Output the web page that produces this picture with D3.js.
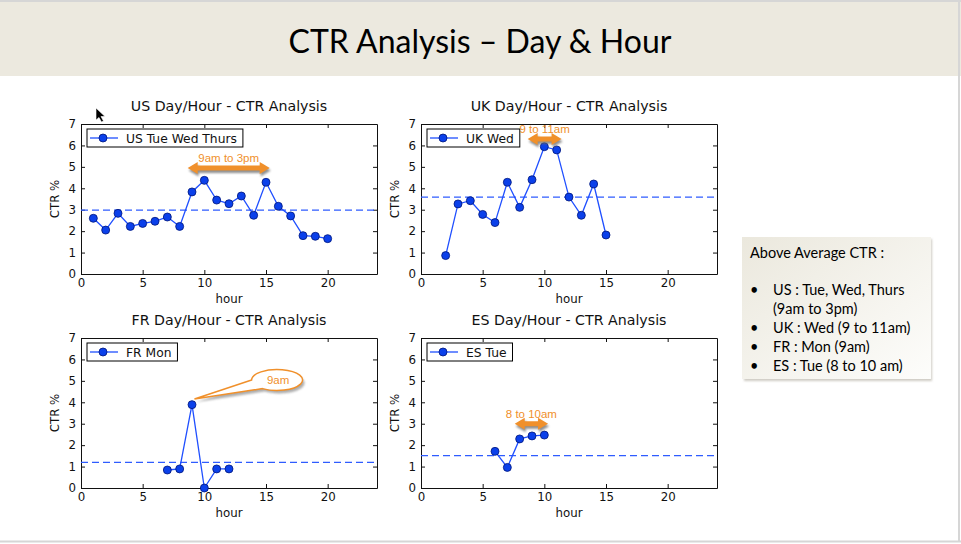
<!DOCTYPE html>
<meta charset="utf-8">
<script src="https://d3js.org/d3.v7.min.js"></script>
<style>
  body { margin: 0; background: #fff; }
</style>
<body>
<div id="slide"></div>
<script>
// hours and CTR %
const usHours = [1, 2, 3, 4, 5, 6, 7, 8, 9, 10, 11, 12, 13, 14, 15, 16, 17, 18, 19, 20];
const usCtr = [2.60, 2.05, 2.83, 2.22, 2.36, 2.46, 2.66, 2.22, 3.83, 4.37, 3.45, 3.28, 3.64, 2.74, 4.28, 3.16, 2.71, 1.79, 1.76, 1.65];
const ukHours = [2, 3, 4, 5, 6, 7, 8, 9, 10, 11, 12, 13, 14, 15];
const ukCtr = [0.86, 3.27, 3.42, 2.78, 2.40, 4.28, 3.11, 4.40, 5.94, 5.79, 3.59, 2.74, 4.20, 1.82];
const frHours = [7, 8, 9, 10, 11, 12];
const frCtr = [0.84, 0.89, 3.89, 0.0, 0.89, 0.89];
const esHours = [6, 7, 8, 9, 10];
const esCtr = [1.71, 0.96, 2.29, 2.43, 2.47];

// average CTR (dashed line) per country
const avgCtr = [2.98, 3.59, 1.20, 1.51];
const countries = ["US", "UK", "FR", "ES"];
const legendLabels = ["US Tue Wed Thurs", "UK Wed", "FR Mon", "ES Tue"];

const xTicks = [0, 5, 10, 15, 20];
const yTicks = [0, 1, 2, 3, 4, 5, 6, 7];

// highlighted windows: [from hour, to hour, ctr level]
const usWindow = [8.65, 15.3, 4.95];
const ukWindow = [8.65, 11.4, 6.3];
const esWindow = [7.6, 10.3, 3.0];
const windowLabels = ["9am to 3pm", "9 to 11am", "8 to 10am"];
const frPeak = [9.2, 4.15];
const frLabel = "9am";

const summaryTitle = "Above Average CTR :";
const summaryItems = [
  ["US : Tue, Wed, Thurs", "(9am to 3pm)"],
  ["UK : Wed (9 to 11am)"],
  ["FR : Mon (9am)"],
  ["ES : Tue (8 to 10 am)"]
];

const W = 961, H = 544;
const orange = "#f0902b";
const tickFont = "'DejaVu Sans', sans-serif";

const svg = d3.select("#slide").append("svg")
  .attr("width", W)
  .attr("height", H);

const defs = svg.append("defs");
defs.append("filter").attr("id", "shadow")
  .attr("x", "-20%").attr("y", "-50%").attr("width", "140%").attr("height", "200%")
  .append("feGaussianBlur").attr("stdDeviation", 1.2);
const grad = defs.append("linearGradient").attr("id", "boxfill")
  .attr("x1", "0").attr("y1", "0").attr("x2", "1").attr("y2", "1");
grad.append("stop").attr("offset", "0%").attr("stop-color", "#ebe8dd");
grad.append("stop").attr("offset", "100%").attr("stop-color", "#fdfdfb");

// slide header
svg.append("rect")
  .attr("x", 0).attr("y", 2).attr("width", W).attr("height", 74)
  .attr("fill", "#ece9df");
svg.append("text")
  .attr("x", 480).attr("y", 53)
  .attr("text-anchor", "middle")
  .attr("font-family", "Lato, sans-serif")
  .attr("font-size", 32)
  .attr("fill", "#000")
  .text("CTR Analysis – Day & Hour");

// slide frame
svg.append("line").attr("x1", 0).attr("x2", W).attr("y1", 1).attr("y2", 1)
  .attr("stroke", "#d6d6d6").attr("stroke-width", 2);
svg.append("line").attr("x1", 959).attr("x2", 959).attr("y1", 0).attr("y2", 542)
  .attr("stroke", "#d6d6d6").attr("stroke-width", 2);
svg.append("line").attr("x1", 0).attr("x2", W).attr("y1", 541.5).attr("y2", 541.5)
  .attr("stroke", "#d6d6d6").attr("stroke-width", 2);

const panels = [
  { hours: usHours, ctr: usCtr, left: 81, top: 124 },
  { hours: ukHours, ctr: ukCtr, left: 421, top: 124 },
  { hours: frHours, ctr: frCtr, left: 81, top: 338 },
  { hours: esHours, ctr: esCtr, left: 421, top: 338 }
];
const pw = 296, ph = 150;

function arrowPath(x1, x2, y) {
  const hl = 10, hh = 6, sh = 2.5;
  return `M${x1},${y} L${x1 + hl},${y - hh} L${x1 + hl},${y - sh} L${x2 - hl},${y - sh}
    L${x2 - hl},${y - hh} L${x2},${y} L${x2 - hl},${y + hh} L${x2 - hl},${y + sh}
    L${x1 + hl},${y + sh} L${x1 + hl},${y + hh} Z`;
}

panels.forEach((p, i) => {
  const g = svg.append("g").attr("transform", `translate(${p.left},${p.top})`);
  const x = d3.scaleLinear().domain([0, 24]).range([0, pw]);
  const y = d3.scaleLinear().domain([0, 7]).range([ph, 0]);
  p.x = x; p.y = y; p.g = g;

  // title
  g.append("text")
    .attr("x", pw / 2).attr("y", -13)
    .attr("text-anchor", "middle")
    .attr("font-family", tickFont).attr("font-size", 14.2).attr("fill", "#111")
    .text(`${countries[i]} Day/Hour - CTR Analysis`);

  // axes, ticks inward on all four sides
  const styleAxis = sel => {
    sel.attr("font-family", tickFont).attr("font-size", 11.8);
    sel.select(".domain").attr("stroke", "#111");
    sel.selectAll(".tick line").attr("stroke", "#111");
    sel.selectAll(".tick text").attr("fill", "#111");
  };
  g.append("g").attr("transform", `translate(0,${ph})`)
    .call(d3.axisBottom(x).tickValues(xTicks).tickSize(-4).tickPadding(5).tickSizeOuter(0))
    .call(styleAxis);
  g.append("g")
    .call(d3.axisTop(x).tickValues(xTicks).tickSize(-4).tickFormat("").tickSizeOuter(0))
    .call(styleAxis);
  g.append("g")
    .call(d3.axisLeft(y).tickValues(yTicks).tickFormat(d3.format("d"))
      .tickSize(-4).tickPadding(5).tickSizeOuter(0))
    .call(styleAxis);
  g.append("g").attr("transform", `translate(${pw},0)`)
    .call(d3.axisRight(y).tickValues(yTicks).tickSize(-4).tickFormat("").tickSizeOuter(0))
    .call(styleAxis);

  g.append("text")
    .attr("x", pw / 2).attr("y", ph + 29)
    .attr("text-anchor", "middle")
    .attr("font-family", tickFont).attr("font-size", 11.8).attr("fill", "#111")
    .text("hour");
  g.append("text")
    .attr("transform", `translate(-22,${ph / 2}) rotate(-90)`)
    .attr("text-anchor", "middle")
    .attr("font-family", tickFont).attr("font-size", 11.8).attr("fill", "#111")
    .text("CTR %");

  // average line
  g.append("line")
    .attr("x1", 0).attr("x2", pw)
    .attr("y1", y(avgCtr[i])).attr("y2", y(avgCtr[i]))
    .attr("stroke", "#2f5cff").attr("stroke-width", 1.3)
    .attr("stroke-dasharray", "7,4");

  // series
  const pts = p.hours.map((h, k) => [h, p.ctr[k]]);
  g.append("path")
    .datum(pts)
    .attr("fill", "none")
    .attr("stroke", "#1f4fff").attr("stroke-width", 1.3)
    .attr("d", d3.line().x(d => x(d[0])).y(d => y(d[1])));
  g.selectAll("circle.pt")
    .data(pts)
    .join("circle")
    .attr("class", "pt")
    .attr("cx", d => x(d[0])).attr("cy", d => y(d[1]))
    .attr("r", 4)
    .attr("fill", "#0b40ea").attr("stroke", "#00157a").attr("stroke-width", 0.8);

  // legend
  const lg = g.append("g").attr("transform", "translate(6,5)");
  const lbox = lg.append("rect")
    .attr("x", 0).attr("y", 0).attr("height", 18)
    .attr("fill", "#fff").attr("stroke", "#000").attr("stroke-width", 1);
  lg.append("line")
    .attr("x1", 3).attr("x2", 31).attr("y1", 9).attr("y2", 9)
    .attr("stroke", "#1f4fff").attr("stroke-width", 1.3);
  lg.append("circle")
    .attr("cx", 16).attr("cy", 9).attr("r", 4)
    .attr("fill", "#0b40ea").attr("stroke", "#00157a").attr("stroke-width", 0.8);
  const lt = lg.append("text")
    .attr("x", 39).attr("y", 13.5)
    .attr("font-family", tickFont).attr("font-size", 12.3).attr("fill", "#111")
    .text(legendLabels[i]);
  lbox.attr("width", 39 + lt.node().getComputedTextLength() + 6);
});

// window arrows
function drawWindow(p, win, label) {
  const x1 = p.x(win[0]), x2 = p.x(win[1]), yy = p.y(win[2]);
  p.g.append("path")
    .attr("d", arrowPath(x1 + 1, x2 + 1, yy + 2.5))
    .attr("fill", "#6a6a6a").attr("opacity", 0.75)
    .attr("filter", "url(#shadow)");
  p.g.append("path")
    .attr("d", arrowPath(x1, x2, yy))
    .attr("fill", orange);
  p.g.append("text")
    .attr("x", (x1 + x2) / 2).attr("y", yy - 6)
    .attr("text-anchor", "middle")
    .attr("font-family", "'Liberation Sans', Arial, sans-serif")
    .attr("font-size", 11.5).attr("fill", orange)
    .text(label);
}
drawWindow(panels[0], usWindow, windowLabels[0]);
drawWindow(panels[1], ukWindow, windowLabels[1]);
drawWindow(panels[3], esWindow, windowLabels[2]);

// FR callout bubble
{
  const p = panels[2];
  const tx = p.x(frPeak[0]), ty = p.y(frPeak[1]);
  const cx = p.x(15.9), cy = p.y(5.04), rx = 25.5, ry = 10.5;
  const a = [cx - rx, cy];
  const b = [cx + rx * Math.cos(125 * Math.PI / 180), cy + ry * Math.sin(125 * Math.PI / 180)];
  const d = `M${a[0]},${a[1]} L${tx},${ty} L${b[0]},${b[1]} A${rx},${ry} 0 1 0 ${a[0]},${a[1]} Z`;
  p.g.append("path").attr("d", d)
    .attr("transform", "translate(2,3)")
    .attr("fill", "#777").attr("opacity", 0.6)
    .attr("filter", "url(#shadow)");
  p.g.append("path").attr("d", d)
    .attr("fill", "#fff").attr("stroke", orange).attr("stroke-width", 1.5);
  p.g.append("text")
    .attr("x", cx + 1).attr("y", cy + 4)
    .attr("text-anchor", "middle")
    .attr("font-family", "'Liberation Sans', Arial, sans-serif")
    .attr("font-size", 11.5).attr("fill", orange)
    .text(frLabel);
}

// summary box
const sb = svg.append("g");
sb.append("rect")
  .attr("x", 744).attr("y", 239).attr("width", 188).attr("height", 142)
  .attr("fill", "#cfccc4").attr("filter", "url(#shadow)");
sb.append("rect")
  .attr("x", 742).attr("y", 237).attr("width", 189).attr("height", 142)
  .attr("fill", "url(#boxfill)");
sb.append("text")
  .attr("x", 750).attr("y", 258)
  .attr("font-family", "Lato, sans-serif").attr("font-size", 14.5).attr("fill", "#000")
  .text(summaryTitle);
let ly = 295;
summaryItems.forEach(item => {
  sb.append("text")
    .attr("x", 750).attr("y", ly)
    .attr("font-family", "Lato, sans-serif").attr("font-size", 14.5).attr("fill", "#000")
    .text("•");
  item.forEach(line => {
    sb.append("text")
      .attr("x", 773).attr("y", ly)
      .attr("font-family", "Lato, sans-serif").attr("font-size", 14.5).attr("fill", "#000")
      .text(line);
    ly += 19;
  });
});

// mouse pointer left in the screenshot
svg.append("path")
  .attr("transform", "translate(96,108)")
  .attr("d", "M0,0 L0,12 L3,9.5 L5.5,14 L7.5,13 L5,8.5 L9,8.5 Z")
  .attr("fill", "#000").attr("stroke", "#fff").attr("stroke-width", 0.6);
</script>
</body>
